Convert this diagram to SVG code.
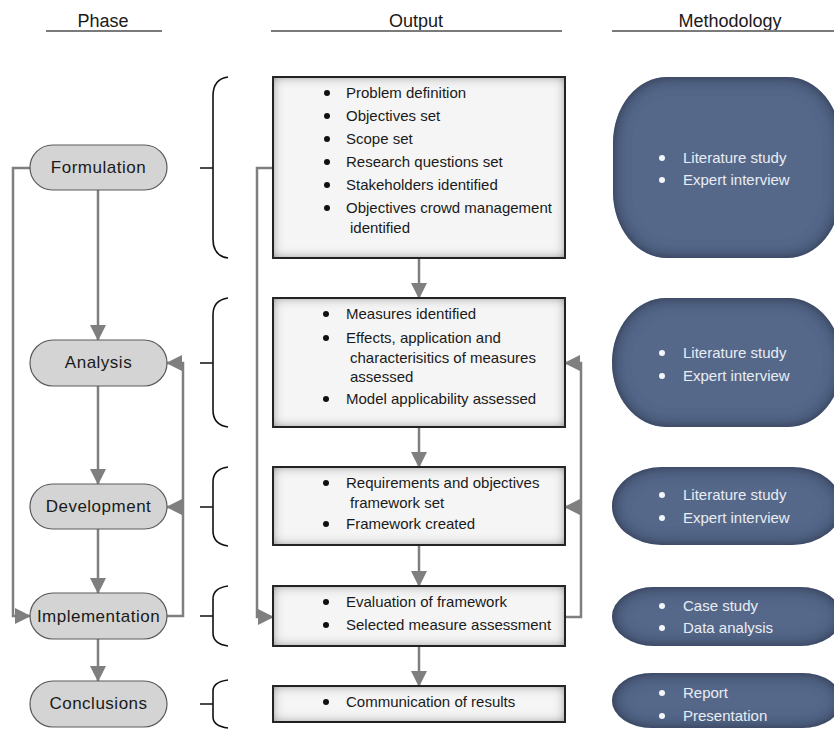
<svg xmlns="http://www.w3.org/2000/svg" width="834" height="731" viewBox="0 0 834 731">
<style>
  text { font-family: "Liberation Sans", Arial, sans-serif; }
  .hdr { font-size: 18px; fill: #1a1a1a; text-anchor: middle; }
  .hline { stroke: #7a7a7a; stroke-width: 2; fill: none; }
  .phase rect { fill: #d4d4d4; stroke: #5a5a5a; stroke-width: 1.2; }
  .phase text { font-size: 17px; letter-spacing: 0.5px; fill: #1a1a1a; text-anchor: middle; }
  .out rect { fill: #f5f5f5; stroke: #1c1c1c; stroke-width: 2; filter: url(#insetLight); }
  .out text { font-size: 15px; fill: #1a1a1a; }
  .out circle { fill: #111; }
  .meth rect { fill: #55678a; filter: url(#insetDark); }
  .meth text { font-size: 15px; fill: #e9edf3; }
  .meth circle { fill: #f4f6fa; }
  .brace { stroke: #111; stroke-width: 1.6; fill: none; }
  .conn path { stroke: #7f7f7f; stroke-width: 2.5; fill: none; }
  .conn path.arr { marker-end: url(#ah); }
</style>
<defs>
  <marker id="ah" markerUnits="userSpaceOnUse" markerWidth="16" markerHeight="16" refX="15" refY="8" orient="auto" viewBox="0 0 16 16">
    <path d="M0,0 L16,8 L0,16 z" fill="#7f7f7f"/>
  </marker>
  <filter id="insetLight" filterUnits="userSpaceOnUse" x="0" y="0" width="834" height="731">
    <feFlood flood-color="#2e2e2e" result="c"/>
    <feComposite in="c" in2="SourceAlpha" operator="out" result="o"/>
    <feGaussianBlur in="o" stdDeviation="6" result="b"/>
    <feComposite in="b" in2="SourceAlpha" operator="in" result="i"/>
    <feMerge><feMergeNode in="SourceGraphic"/><feMergeNode in="i"/></feMerge>
  </filter>
  <filter id="insetDark" filterUnits="userSpaceOnUse" x="0" y="0" width="900" height="760">
    <feFlood flood-color="#161d2b" result="c"/>
    <feComposite in="c" in2="SourceAlpha" operator="out" result="o"/>
    <feGaussianBlur in="o" stdDeviation="8" result="b"/>
    <feComposite in="b" in2="SourceAlpha" operator="in" result="i"/>
    <feMerge><feMergeNode in="SourceGraphic"/><feMergeNode in="i"/></feMerge>
  </filter>
</defs>
<rect x="0" y="0" width="834" height="731" fill="#ffffff"/>

<g id="headers">
  <text class="hdr" x="103" y="27">Phase</text>
  <line class="hline" x1="46" y1="31" x2="162" y2="31"/>
  <text class="hdr" x="416" y="27">Output</text>
  <line class="hline" x1="271" y1="31" x2="562" y2="31"/>
  <text class="hdr" x="730" y="27">Methodology</text>
  <line class="hline" x1="612" y1="31" x2="834" y2="31"/>
</g>

<g id="connectors" class="conn">
  <path class="arr" d="M98,190 V340"/>
  <path class="arr" d="M98,386 V484"/>
  <path class="arr" d="M98,529 V593"/>
  <path class="arr" d="M98,639 V681"/>
  <path class="arr" d="M30,168 H13 V616 H30"/>
  <path class="arr" d="M167,616 H183 V363 H167"/>
  <path class="arr" d="M183,507 H167"/>
  <path class="arr" d="M419,258 V298"/>
  <path class="arr" d="M419,427 V467"/>
  <path class="arr" d="M419,545 V586"/>
  <path class="arr" d="M419,646 V686"/>
  <path class="arr" d="M273,168 H257 V617 H273"/>
  <path class="arr" d="M565,617 H581 V363 H565"/>
  <path class="arr" d="M581,507 H565"/>
</g>

<g id="phase-formulation" class="phase">
  <rect x="30" y="145" width="137" height="45" rx="22.5"/>
  <text x="98.5" y="173">Formulation</text>
</g>
<g id="phase-analysis" class="phase">
  <rect x="30" y="340" width="137" height="46" rx="23"/>
  <text x="98.5" y="368">Analysis</text>
</g>
<g id="phase-development" class="phase">
  <rect x="30" y="484" width="137" height="45" rx="22.5"/>
  <text x="98.5" y="512">Development</text>
</g>
<g id="phase-implementation" class="phase">
  <rect x="30" y="593" width="137" height="46" rx="23"/>
  <text x="98.5" y="622">Implementation</text>
</g>
<g id="phase-conclusions" class="phase">
  <rect x="30" y="681" width="137" height="46" rx="23"/>
  <text x="98.5" y="709">Conclusions</text>
</g>

<g id="braces">
  <path class="brace" d="M228,77 Q213,79 213,96 V239 Q213,256 228,258 M200,168 H213"/>
  <path class="brace" d="M228,298 Q213,300 213,315 V410 Q213,425 228,427 M200,363 H213"/>
  <path class="brace" d="M228,467 Q213,469 213,482 V531 Q213,544 228,546 M200,507 H213"/>
  <path class="brace" d="M228,586 Q213,588 213,599 V633 Q213,644 228,646 M200,616 H213"/>
  <path class="brace" d="M228,680 Q213,682 213,691 V717 Q213,726 228,728 M200,704 H213"/>
</g>

<g id="output-formulation" class="out">
  <rect x="273" y="77" width="292" height="181"/>
  <circle cx="327" cy="93" r="3"/><text x="346" y="98">Problem definition</text>
  <circle cx="327" cy="116" r="3"/><text x="346" y="121">Objectives set</text>
  <circle cx="327" cy="139" r="3"/><text x="346" y="144">Scope set</text>
  <circle cx="327" cy="162" r="3"/><text x="346" y="167">Research questions set</text>
  <circle cx="327" cy="185" r="3"/><text x="346" y="190">Stakeholders identified</text>
  <circle cx="327" cy="208" r="3"/><text x="346" y="213">Objectives crowd management</text>
  <text x="350" y="233">identified</text>
</g>
<g id="output-analysis" class="out">
  <rect x="273" y="298" width="292" height="129"/>
  <circle cx="326" cy="314" r="3"/><text x="346" y="319">Measures identified</text>
  <circle cx="326" cy="338" r="3"/><text x="346" y="343">Effects, application and</text>
  <text x="350" y="363">characterisitics of measures</text>
  <text x="350" y="382">assessed</text>
  <circle cx="326" cy="399" r="3"/><text x="346" y="404">Model applicability assessed</text>
</g>
<g id="output-development" class="out">
  <rect x="273" y="467" width="292" height="78"/>
  <circle cx="326" cy="483" r="3"/><text x="346" y="488">Requirements and objectives</text>
  <text x="350" y="508">framework set</text>
  <circle cx="326" cy="524" r="3"/><text x="346" y="529">Framework created</text>
</g>
<g id="output-implementation" class="out">
  <rect x="273" y="586" width="292" height="60"/>
  <circle cx="326" cy="602" r="3"/><text x="346" y="607">Evaluation of framework</text>
  <circle cx="326" cy="625" r="3"/><text x="346" y="630">Selected measure assessment</text>
</g>
<g id="output-conclusions" class="out">
  <rect x="273" y="686" width="292" height="36"/>
  <circle cx="326" cy="702" r="3"/><text x="346" y="707">Communication of results</text>
</g>

<g id="method-formulation" class="meth">
  <rect x="613" y="77" width="228" height="181" rx="54" ry="66"/>
  <circle cx="662" cy="158" r="3"/><text x="683" y="163">Literature study</text>
  <circle cx="662" cy="180" r="3"/><text x="683" y="185">Expert interview</text>
</g>
<g id="method-analysis" class="meth">
  <rect x="612" y="298" width="230" height="129" rx="54" ry="64.5"/>
  <circle cx="662" cy="353" r="3"/><text x="683" y="358">Literature study</text>
  <circle cx="662" cy="376" r="3"/><text x="683" y="381">Expert interview</text>
</g>
<g id="method-development" class="meth">
  <rect x="612" y="467" width="230" height="78" rx="50" ry="39"/>
  <circle cx="662" cy="495" r="3"/><text x="683" y="500">Literature study</text>
  <circle cx="662" cy="518" r="3"/><text x="683" y="523">Expert interview</text>
</g>
<g id="method-implementation" class="meth">
  <rect x="612" y="587" width="230" height="59" rx="42" ry="29.5"/>
  <circle cx="662" cy="606" r="3"/><text x="683" y="611">Case study</text>
  <circle cx="662" cy="628" r="3"/><text x="683" y="633">Data analysis</text>
</g>
<g id="method-conclusions" class="meth">
  <rect x="612" y="673" width="230" height="55" rx="40" ry="27.5"/>
  <circle cx="662" cy="693" r="3"/><text x="683" y="698">Report</text>
  <circle cx="662" cy="716" r="3"/><text x="683" y="721">Presentation</text>
</g>
</svg>
